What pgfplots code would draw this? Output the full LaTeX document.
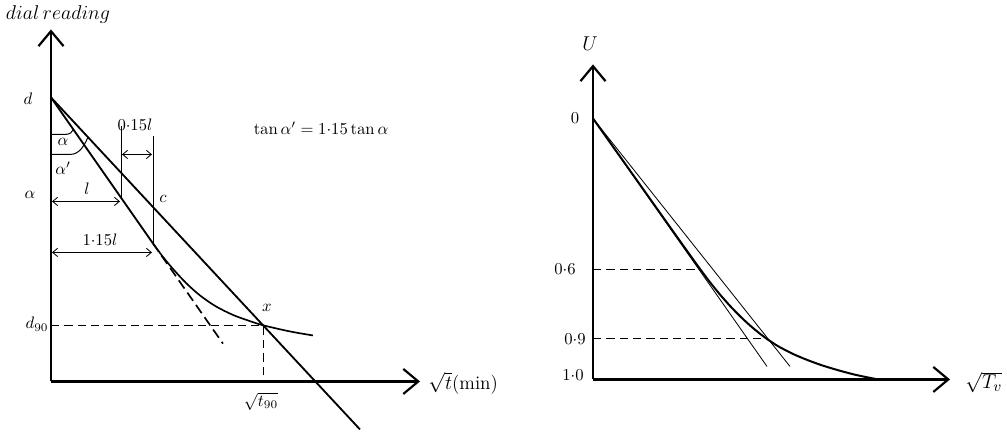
\documentclass[border=0pt]{standalone}
\usepackage{pgfplots}
\pgfplotsset{compat=1.18}
\usetikzlibrary{arrows.meta}

\begin{document}
\begin{tikzpicture}[font=\fontsize{10}{12}\selectfont]
\pgfplotsset{
  panel/.style={
    x=0.6pt, y=0.6pt, enlargelimits=false, clip=false,
    axis lines=left, xtick=\empty, ytick=\empty,
    axis line style={line width=1.3pt, -{Straight Barb[length=9pt,width=15pt]}},
    anchor=south west,
  },
  dim/.style={line width=0.5pt,
    {Straight Barb[length=3pt,width=5pt]}-{Straight Barb[length=3pt,width=5pt]}},
  guide/.style={line width=0.6pt, dash pattern=on 5pt off 3pt},
}

% ---------- Taylor's square-root-of-time construction ----------
\begin{axis}[panel, at={(30.6pt,31.2pt)}, xmin=0, xmax=369, ymin=0, ymax=352]
  % invisible frame fixing the size of the whole figure
  \path (-51,-52) rectangle (956,380);

  % initial straight line and its continuation
  \addplot[line width=1.1pt] coordinates {(0,284) (102,138)};
  \addplot[line width=1pt, dash pattern=on 6pt off 3pt] coordinates {(102,138) (172,37.8)};
  % line with abscissae multiplied by 1.15
  \addplot[line width=1.1pt] coordinates {(0,284) (309,-48)};
  % consolidation curve
  \addplot[line width=1pt, smooth] coordinates {
    (102,138) (112,124.5) (122,112.5) (135,98.5) (149,86) (165,75)
    (182,66.5) (197,61) (212,56.2) (239,50) (262,46)};
  % verticals marking l and 1.15 l
  \addplot[line width=0.6pt] coordinates {(70,255) (70,183.8)};
  \addplot[line width=0.6pt] coordinates {(102,245) (102,138)};
  % d90 and sqrt(t90)
  \addplot[guide] coordinates {(0,56.2) (212,56.2) (212,0)};

  % dimension arrows
  \addplot[dim] coordinates {(1,180) (69,180)};
  \addplot[dim] coordinates {(1,129) (101,129)};
  \addplot[dim] coordinates {(71,227) (101,227)};

  % angle arcs
  \draw[line width=0.6pt] (0,247) -- (14,247) .. controls (19,247) and (21.5,249.5) .. (22.4,252);
  \draw[line width=0.6pt] (0,227) -- (19,227) .. controls (28,227) and (33,235) .. (37,244.3);

  % labels
  \node[font=\fontsize{13}{15}\selectfont] at (7,367) {$dial\,reading$};
  \node at (-23,283) {$d$};
  \node at (-21,187) {$\alpha$};
  \node at (-14,57) {$d_{90}$};
  \node at (12,240) {$\alpha$};
  \node at (12,213) {$\alpha'$};
  \node at (36,193) {$l$};
  \node at (49,142) {$1{\cdot}15l$};
  \node at (84,257) {$0{\cdot}15l$};
  \node at (112,183) {$c$};
  \node at (216,74) {$x$};
  \node at (210,-20) {$\sqrt{t_{90}}$};
  \node[anchor=west, inner sep=0pt, font=\fontsize{11.5}{13}\selectfont] at (377,-2) {$\sqrt{t}$(min)};
  \node at (270,253) {$\tan\alpha' = 1{\cdot}15\tan\alpha$};
\end{axis}

% ---------- degree of consolidation against sqrt(Tv) ----------
\begin{axis}[panel, at={(355.8pt,32.4pt)}, xmin=0, xmax=357, ymin=0, ymax=315]
  % tangents
  \addplot[line width=0.5pt] coordinates {(0,261) (174,13)};
  \addplot[line width=0.5pt] coordinates {(0,261) (197,13)};
  % theoretical curve
  \addplot[line width=1.2pt, smooth] coordinates {
    (0,261) (40,204.6) (80,148.2) (100,120.2) (107,110.5) (117,97.2)
    (127,84.9) (137,73.6) (147,63.3) (157,54) (167,45.7) (174,40.5)
    (185,33.3) (200,25.5) (215,19.2) (230,13.8) (247,8.7) (264,4.3) (285,0)};
  % U = 0.6 and U = 0.9
  \addplot[guide] coordinates {(0,110) (105,110)};
  \addplot[guide] coordinates {(0,40.5) (174,40.5)};

  % labels
  \node[font=\fontsize{12}{14}\selectfont] at (-3,336) {$U$};
  \node at (-18,261) {$0$};
  \node at (-28,110) {$0{\cdot}6$};
  \node at (-18,40.5) {$0{\cdot}9$};
  \node at (-20,4) {$1{\cdot}0$};
  \node[anchor=west, inner sep=0pt, font=\fontsize{12.5}{14}\selectfont] at (372,-3) {$\sqrt{T_v}$};
\end{axis}
\end{tikzpicture}
\end{document}
